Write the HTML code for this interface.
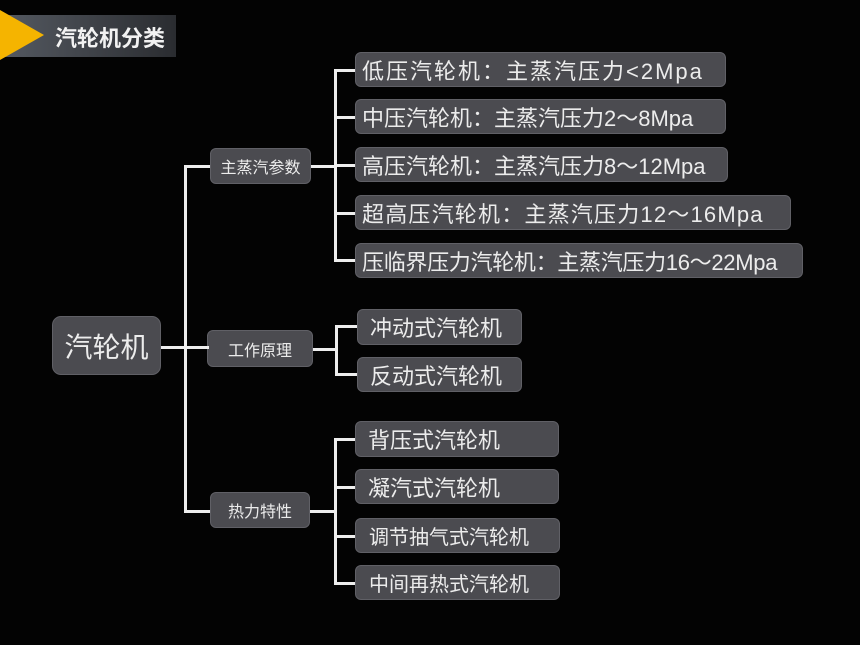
<!DOCTYPE html>
<html><head><meta charset="utf-8"><style>
body{margin:0;width:860px;height:645px;background:#030303;position:relative;overflow:hidden;font-family:"Liberation Sans","Noto Sans CJK SC",sans-serif;color:#ececec}
.b{position:absolute;background:#4b4b50;border:1px solid #606066;border-radius:6px;box-sizing:border-box;display:flex;align-items:center;white-space:nowrap}
.l{position:absolute;background:#eee}
</style></head><body>
<div style="position:absolute;left:0;top:15px;width:176px;height:42px;background:linear-gradient(90deg,#555a62,#2a2c30)"></div>
<div style="position:absolute;left:0;top:10px;width:0;height:0;border-top:25px solid transparent;border-bottom:25px solid transparent;border-left:44px solid #f5b400"></div>
<div style="position:absolute;left:55px;top:21px;font-size:22px;font-weight:bold;color:#f2f2f2">汽轮机分类</div>

<div class="b" style="left:52px;top:316px;width:109px;height:59px;font-size:28px;justify-content:center;border-radius:9px">汽轮机</div>
<div class="b" style="left:210px;top:148px;width:101px;height:36px;font-size:16px;justify-content:center">主蒸汽参数</div>
<div class="b" style="left:207px;top:330px;width:106px;height:37px;font-size:16px;justify-content:center">工作原理</div>
<div class="b" style="left:210px;top:492px;width:100px;height:36px;font-size:16px;justify-content:center">热力特性</div>

<div class="l" style="left:161px;top:346px;width:48px;height:3px"></div>
<div class="l" style="left:184px;top:165px;width:3px;height:348px"></div>
<div class="l" style="left:184px;top:165px;width:26px;height:3px"></div>
<div class="l" style="left:184px;top:510px;width:26px;height:3px"></div>

<div class="l" style="left:311px;top:165px;width:25px;height:3px"></div>
<div class="l" style="left:334px;top:69px;width:3px;height:193px"></div>
<div class="l" style="left:334px;top:69px;width:21px;height:3px"></div>
<div class="l" style="left:334px;top:116px;width:21px;height:3px"></div>
<div class="l" style="left:334px;top:164px;width:21px;height:3px"></div>
<div class="l" style="left:334px;top:212px;width:21px;height:3px"></div>
<div class="l" style="left:334px;top:259px;width:21px;height:3px"></div>
<div class="b" style="left:355px;top:52px;width:371px;height:35px;font-size:22px;letter-spacing:2px;padding-left:6px">低压汽轮机：主蒸汽压力&lt;2Mpa</div>
<div class="b" style="left:355px;top:99px;width:371px;height:35px;font-size:22px;letter-spacing:0px;padding-left:6px">中压汽轮机：主蒸汽压力2～8Mpa</div>
<div class="b" style="left:355px;top:147px;width:373px;height:35px;font-size:22px;letter-spacing:0px;padding-left:6px">高压汽轮机：主蒸汽压力8～12Mpa</div>
<div class="b" style="left:355px;top:195px;width:436px;height:35px;font-size:22px;letter-spacing:1.2px;padding-left:6px">超高压汽轮机：主蒸汽压力12～16Mpa</div>
<div class="b" style="left:355px;top:243px;width:448px;height:35px;font-size:22px;letter-spacing:-0.3px;padding-left:6px">压临界压力汽轮机：主蒸汽压力16～22Mpa</div>

<div class="l" style="left:313px;top:348px;width:24px;height:3px"></div>
<div class="l" style="left:335px;top:325px;width:3px;height:51px"></div>
<div class="l" style="left:335px;top:325px;width:22px;height:3px"></div>
<div class="l" style="left:335px;top:373px;width:22px;height:3px"></div>
<div class="b" style="left:357px;top:309px;width:165px;height:36px;font-size:22px;padding-left:12px">冲动式汽轮机</div>
<div class="b" style="left:357px;top:357px;width:165px;height:35px;font-size:22px;padding-left:12px">反动式汽轮机</div>

<div class="l" style="left:310px;top:510px;width:26px;height:3px"></div>
<div class="l" style="left:334px;top:438px;width:3px;height:147px"></div>
<div class="l" style="left:334px;top:438px;width:21px;height:3px"></div>
<div class="l" style="left:334px;top:486px;width:21px;height:3px"></div>
<div class="l" style="left:334px;top:535px;width:21px;height:3px"></div>
<div class="l" style="left:334px;top:582px;width:21px;height:3px"></div>
<div class="b" style="left:355px;top:421px;width:204px;height:36px;font-size:22px;padding-left:12px">背压式汽轮机</div>
<div class="b" style="left:355px;top:469px;width:204px;height:35px;font-size:22px;padding-left:12px">凝汽式汽轮机</div>
<div class="b" style="left:355px;top:518px;width:205px;height:35px;font-size:20px;padding-left:13px">调节抽气式汽轮机</div>
<div class="b" style="left:355px;top:565px;width:205px;height:35px;font-size:20px;padding-left:13px">中间再热式汽轮机</div>
</body></html>
